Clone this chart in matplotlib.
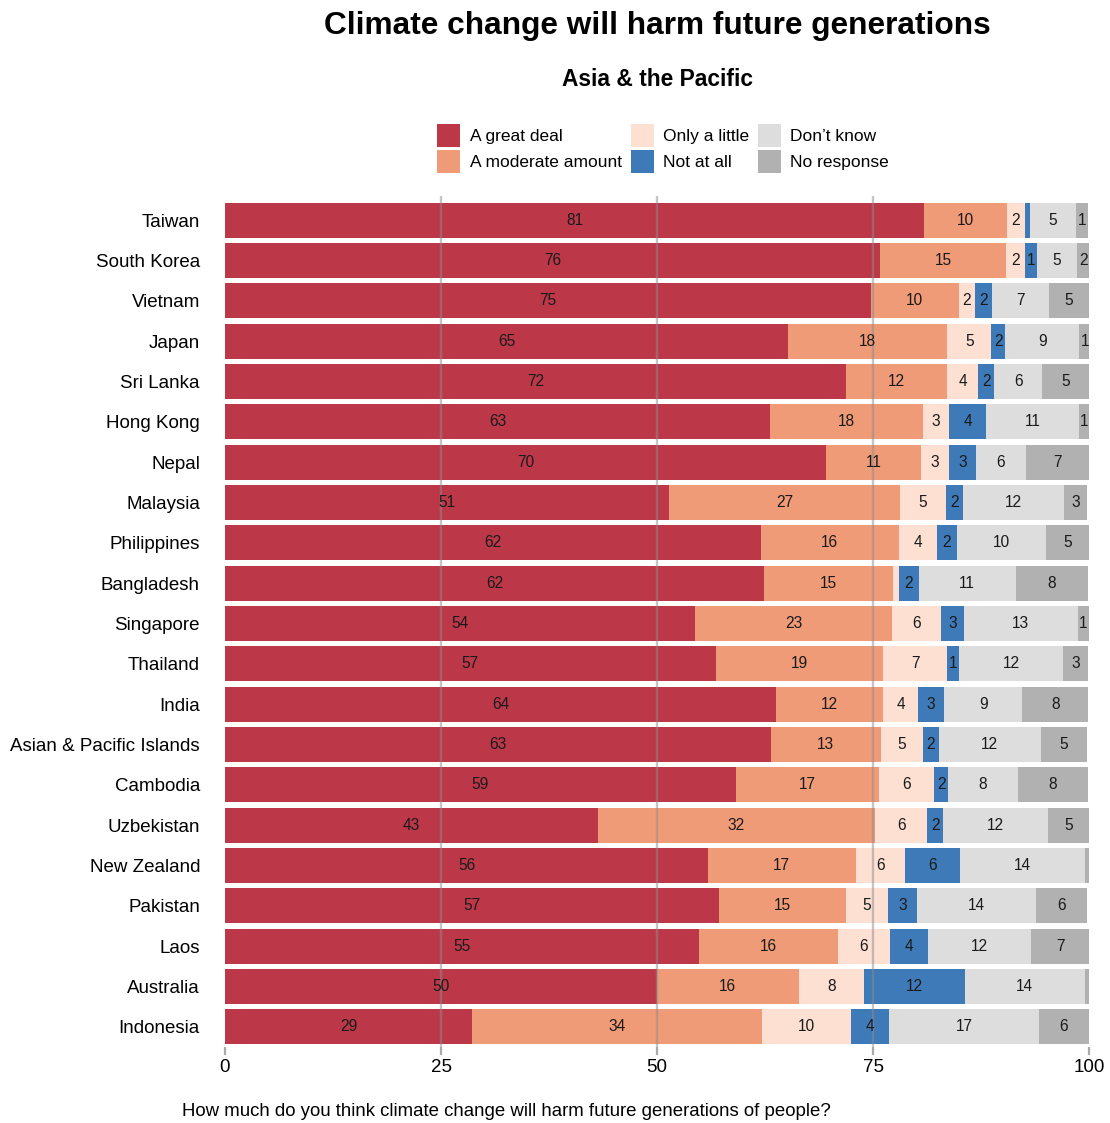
import matplotlib.pyplot as plt
from matplotlib.patches import Patch

plt.rcParams["font.family"] = ["Liberation Sans", "DejaVu Sans"]

COUNTRIES = [
    "Taiwan", "South Korea", "Vietnam", "Japan", "Sri Lanka", "Hong Kong",
    "Nepal", "Malaysia", "Philippines", "Bangladesh", "Singapore", "Thailand",
    "India", "Asian & Pacific Islands", "Cambodia", "Uzbekistan", "New Zealand",
    "Pakistan", "Laos", "Australia", "Indonesia",
]

CATEGORIES = ["A great deal", "A moderate amount", "Only a little",
              "Not at all", "Don\u2019t know", "No response"]

GREAT_DEAL = [80.9, 75.8, 74.8, 65.2, 71.9, 63.1, 69.6, 51.4, 62.0, 62.4, 54.4,
              56.8, 63.8, 63.2, 59.1, 43.2, 55.9, 57.2, 54.9, 50.0, 28.6]
MODERATE = [9.6, 14.6, 10.1, 18.4, 11.7, 17.7, 11.0, 26.7, 16.0, 14.9, 22.8,
            19.4, 12.4, 12.7, 16.6, 32.0, 17.1, 14.7, 16.0, 16.4, 33.6]
A_LITTLE = [2.1, 2.2, 1.9, 5.1, 3.6, 3.0, 3.2, 5.4, 4.4, 0.7, 5.7,
            7.4, 4.0, 4.9, 6.4, 6.1, 5.7, 4.8, 6.1, 7.6, 10.3]
NOT_AT_ALL = [0.6, 1.4, 2.0, 1.6, 1.8, 4.3, 3.1, 1.9, 2.3, 2.3, 2.6,
              1.4, 3.0, 1.8, 1.6, 1.8, 6.4, 3.4, 4.4, 11.6, 4.4]
DONT_KNOW = [5.3, 4.6, 6.6, 8.6, 5.6, 10.7, 5.8, 11.7, 10.3, 11.2, 13.2,
             12.0, 9.1, 11.8, 8.1, 12.2, 14.4, 13.8, 11.9, 13.9, 17.3]
NO_RESPONSE = [1.4, 1.6, 4.6, 1.3, 5.4, 1.2, 7.3, 2.7, 5.0, 8.4, 1.3,
               2.9, 7.6, 5.4, 8.1, 4.7, 0.5, 5.9, 6.7, 0.5, 5.8]

COLORS = ["#bc3848", "#f09b78", "#fde0d1", "#3f7ab8", "#dddddd", "#b1b1b1"]

X_TICKS = [0, 25, 50, 75, 100]


def main():
    series = [GREAT_DEAL, MODERATE, A_LITTLE, NOT_AT_ALL, DONT_KNOW, NO_RESPONSE]
    W, H = 1110, 1123
    fig = plt.figure(figsize=(W / 100, H / 100), dpi=100)

    top_px, bottom_px = 196, 1047
    ax = fig.add_axes([225 / W, 1 - bottom_px / H, (1089 - 225) / W, (bottom_px - top_px) / H])

    ypos = list(range(len(COUNTRIES)))
    left = [0.0] * len(COUNTRIES)
    for vals, color, name in zip(series, COLORS, CATEGORIES):
        ax.barh(ypos, vals, left=left, height=0.87, color=color, label=name, zorder=2)
        for y, l, v in zip(ypos, left, vals):
            if v >= 1:
                ax.text(l + v / 2, y, f"{round(v)}", ha="center", va="center",
                        fontsize=11.2, color="#1a1a1a", zorder=4)
        left = [l + v for l, v in zip(left, vals)]

    # grid lines sit over the bars, as in the original
    for g in [25, 50, 75]:
        ax.axvline(g, color="#8c8c8c", alpha=0.5, linewidth=1.7, zorder=3)

    ax.set_xlim(0, 100)
    ax.set_ylim(20.5, -0.6)
    ax.set_yticks(ypos, COUNTRIES, fontsize=13.5)
    ax.set_xticks(X_TICKS, [str(t) for t in X_TICKS], fontsize=13.5)
    ax.tick_params(axis="y", length=0, pad=18)
    ax.tick_params(axis="x", length=6, width=1.6, color="#aaaaaa", pad=3)
    for s in ax.spines.values():
        s.set_visible(False)

    fig.text(657 / W, 1 - 26 / H, "Climate change will harm future generations",
             ha="center", va="center", fontsize=22.8, fontweight="bold")
    fig.text(657 / W, 1 - 80 / H, "Asia & the Pacific",
             ha="center", va="center", fontsize=16.4, fontweight="bold")
    fig.text(182 / W, 1 - 1111 / H,
             "How much do you think climate change will harm future generations of people?",
             ha="left", va="center", fontsize=13.4)

    handles = [Patch(facecolor=c, edgecolor="none") for c in COLORS]
    fig.legend(handles, CATEGORIES, loc="upper center", ncol=3,
               bbox_to_anchor=(663 / W, 1 - 124 / H), frameon=False,
               fontsize=12.5, handlelength=1.325, handleheight=1.66,
               handletextpad=0.52, columnspacing=0.52, labelspacing=0.15,
               borderpad=0, borderaxespad=0)

    fig.savefig("out.png", dpi=100)
    plt.close(fig)


if __name__ == "__main__":
    main()
